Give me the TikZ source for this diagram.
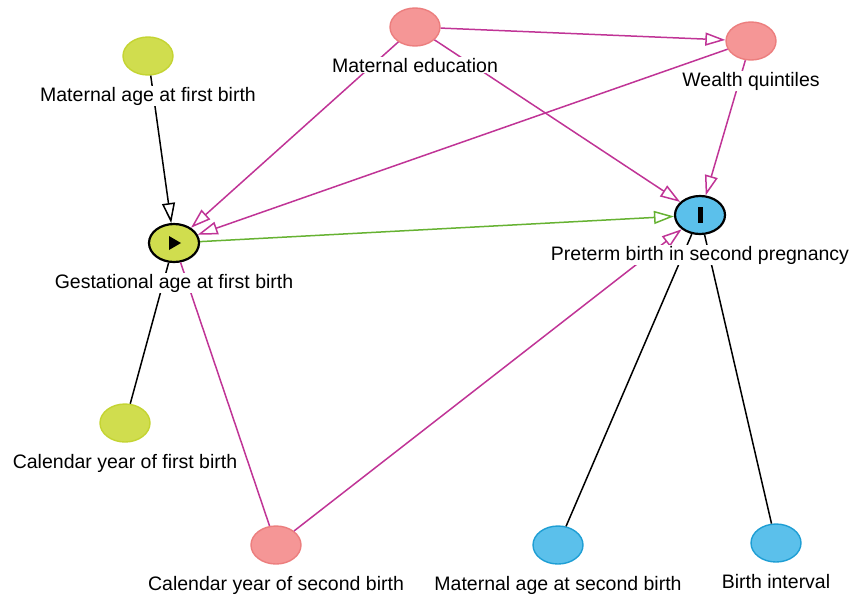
\documentclass[tikz,border=0pt]{standalone}
\usepackage{fontspec}
\setmainfont{Liberation Sans}
\usetikzlibrary{positioning, shapes.geometric, arrows.meta}

\definecolor{expfill}{RGB}{208,221,78}
\definecolor{expdraw}{RGB}{196,212,50}
\definecolor{confill}{RGB}{245,150,150}
\definecolor{condraw}{RGB}{236,126,126}
\definecolor{outfill}{RGB}{91,192,235}
\definecolor{outdraw}{RGB}{30,158,212}
\definecolor{biaspath}{RGB}{192,52,150}
\definecolor{causalpath}{RGB}{102,178,50}

\begin{document}
\begin{tikzpicture}[x = 1pt, y = -1pt,
		var/.style={ellipse, draw, inner sep = 0pt, minimum width = 50pt, minimum height = 38pt, line width = 1.4pt},
		exposure/.style={var, fill = expfill, draw = expdraw},
		confounder/.style={var, fill = confill, draw = condraw},
		outcome/.style={var, fill = outfill, draw = outdraw},
		label/.style={fill = white, inner sep = 1pt, font = \fontsize{19.5}{22}\selectfont},
		arrow/.style={-{Triangle[open, length = 20pt, width = 13pt]}, line width = 1.5pt},
		line/.style={line width = 1.5pt},
		bias/.style={draw = biaspath},
		causal/.style={draw = causalpath}
	]
	\useasboundingbox (0, 0) rectangle (850, 598);
	
	\node[exposure] (ma1) at (148, 56) {};
	\node[confounder] (edu) at (415, 27) {};
	\node[confounder] (wealth) at (751, 41) {};
	\node[exposure, draw = black, line width = 2.2pt] (gest) at (174, 243) {};
	\node[outcome, draw = black, line width = 2.2pt] (pre) at (700, 215) {};
	\node[exposure] (cy1) at (125, 423) {};
	\node[confounder] (cy2) at (276, 545) {};
	\node[outcome] (ma2) at (558, 545) {};
	\node[outcome] (bint) at (776, 543) {};
	
	\fill ([xshift = -5pt, yshift = 7pt] gest.center) -- ([xshift = 7pt] gest.center) -- ([xshift = -5pt, yshift = -7pt] gest.center) -- cycle;
	\fill ([xshift = -2.5pt, yshift = -8pt] pre.center) rectangle ([xshift = 2.5pt, yshift = 8pt] pre.center);
	
	\draw[arrow] (ma1) -- (gest);
	\draw[arrow, bias] (edu) -- (gest);
	\draw[arrow, bias] (edu) -- (pre);
	\draw[arrow, bias] (edu) -- (wealth);
	\draw[arrow, bias] (wealth) -- (gest);
	\draw[arrow, bias] (wealth) -- (pre);
	\draw[arrow, causal] (gest) -- (pre);
	\draw[arrow, bias] (cy2) -- (pre);
	\draw[line, bias] (cy2) -- (gest);
	\draw[line] (cy1) -- (gest);
	\draw[line] (ma2) -- (pre);
	\draw[line] (bint) -- (pre);
	
	\node[label, below = 10pt of ma1] (ma1 label) {Maternal age at first birth};
	\node[label, below = 10pt of edu] (edu label) {Maternal education};
	\node[label, below = 10pt of wealth] (wealth label) {Wealth quintiles};
	\node[label, below = 10pt of gest] (gest label) {Gestational age at first birth};
	\node[label, below = 10pt of pre] (pre label) {Preterm birth in second pregnancy};
	\node[label, below = 10pt of cy1] (cy1 label) {Calendar year of first birth};
	\node[label, below = 10pt of cy2] (cy2 label) {Calendar year of second birth};
	\node[label, below = 10pt of ma2] (ma2 label) {Maternal age at second birth};
	\node[label, below = 10pt of bint] (bint label) {Birth interval};
	
\end{tikzpicture}
\end{document}
